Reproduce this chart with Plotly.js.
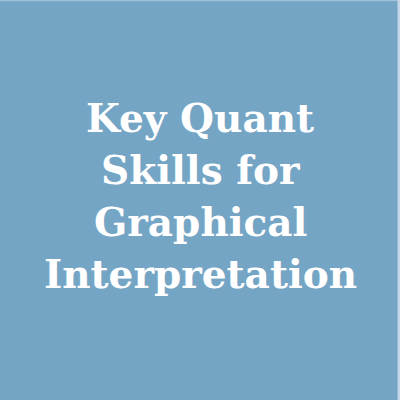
<!DOCTYPE html>
<html>
<head>
<meta charset="utf-8">
<script src="https://cdn.plot.ly/plotly-3.0.1.min.js"></script>
<style>html,body{margin:0;padding:0;background:#75a5c5;}#chart{width:400px;height:400px;}</style>
</head>
<body>
<div id="chart"></div>
<script>
var titleLines = ["Key Quant", "Skills for", "Graphical", "Interpretation"];

var firstLineCenterPx = 118;
var lineSpacingPx = 52;

var annotations = titleLines.map(function (line, i) {
  return {
    xref: "paper", yref: "paper",
    x: 0.5, y: 1 - (firstLineCenterPx + i * lineSpacingPx) / 400,
    xanchor: "center", yanchor: "middle",
    align: "center",
    showarrow: false,
    text: line,
    font: {family: "DejaVu Serif", size: 39, color: "#ffffff", weight: "bold"}
  };
});

var layout = {
  width: 400,
  height: 400,
  margin: {l: 0, r: 0, t: 0, b: 0},
  paper_bgcolor: "#75a5c5",
  plot_bgcolor: "#75a5c5",
  xaxis: {visible: false, range: [0, 1], fixedrange: true},
  yaxis: {visible: false, range: [0, 1], fixedrange: true},
  showlegend: false,
  shapes: [
    {type: "line", xref: "paper", yref: "paper", x0: 0, x1: 1, y0: 0.999, y1: 0.999,
     line: {color: "#9fc0d8", width: 1.5}},
    {type: "line", xref: "paper", yref: "paper", x0: 0.997, x1: 0.997, y0: 0, y1: 1,
     line: {color: "#c4d8e8", width: 2.5}}
  ],
  annotations: annotations
};

Plotly.newPlot("chart", [], layout, {staticPlot: true, displayModeBar: false});
</script>
</body>
</html>
